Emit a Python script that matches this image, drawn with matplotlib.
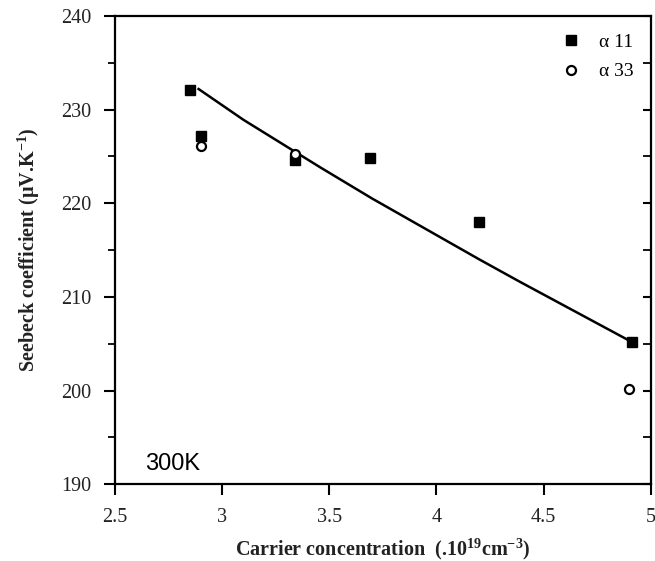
import matplotlib
matplotlib.use('Agg')
import matplotlib.pyplot as plt
from matplotlib.ticker import MultipleLocator

# データ
x_a11 = [2.85, 2.90, 3.34, 3.69, 4.20, 4.91]
y_a11 = [232.1, 227.2, 224.6, 224.8, 218.0, 205.2]
x_a33 = [2.90, 3.34, 4.90]
y_a33 = [226.1, 225.3, 200.2]
# フィット曲線
x_fit = [2.89, 3.10, 3.34, 3.46, 3.70, 4.20, 4.39, 4.91]
y_fit = [232.2, 228.9, 225.5, 223.8, 220.5, 214.0, 211.6, 205.2]

plt.rcParams['font.family'] = ['Liberation Serif', 'DejaVu Serif']
plt.rcParams['mathtext.fontset'] = 'custom'
plt.rcParams['mathtext.default'] = 'regular'

fig = plt.figure(figsize=(6.55, 5.61), dpi=100)
ax = fig.add_axes([0.1756, 0.137, 0.818, 0.8345])

ax.plot(x_fit, y_fit, color='black', lw=1.8, zorder=2)
ax.plot(x_a11, y_a11, 's', color='black', ms=6.5, label='α 11', zorder=3)
ax.plot(x_a33, y_a33, 'o', mfc='white', mec='black', mew=1.6, ms=6.5,
        label='α 33', zorder=3)

ax.set_xlim(2.5, 5)
ax.set_ylim(190, 240)
ax.yaxis.set_major_locator(MultipleLocator(10))
ax.yaxis.set_minor_locator(MultipleLocator(5))
ax.set_xticks([2.5, 3, 3.5, 4, 4.5, 5])
ax.set_xticklabels(['2.5', '3', '3.5', '4', '4.5', '5'])

for s in ax.spines.values():
    s.set_linewidth(1.6)
ax.tick_params(axis='both', which='major', direction='out', length=8, width=1.5,
               labelsize=14.5, colors='black', labelcolor='#222222', pad=9)
ax.tick_params(axis='y', which='minor', direction='out', length=5, width=1.3)
ax.tick_params(axis='y', which='both', right=True)
# 右側の目盛りは内向き
for t in ax.yaxis.get_major_ticks() + ax.yaxis.get_minor_ticks():
    t.tick2line.set_marker(matplotlib.lines.TICKLEFT)
    t.tick2line.set_markersize(6)

ax.set_xlabel('Carrier concentration  (.10$^{19}$cm$^{-3}$)', fontsize=14.5,
              fontweight='bold', color='#222222', labelpad=7)
ax.set_ylabel('Seebeck coefficient (µV.K$^{-1}$)', fontsize=14.5,
              fontweight='bold', color='#222222', labelpad=14)

ax.text(2.64, 191.5, '300K', fontsize=17, family='Liberation Sans',
        color='black')

ax.legend(loc='upper right', frameon=False, fontsize=14, handletextpad=0.6,
          borderaxespad=0.5, labelspacing=0.6, handlelength=1.6)

fig.savefig('out.png', dpi=100)
